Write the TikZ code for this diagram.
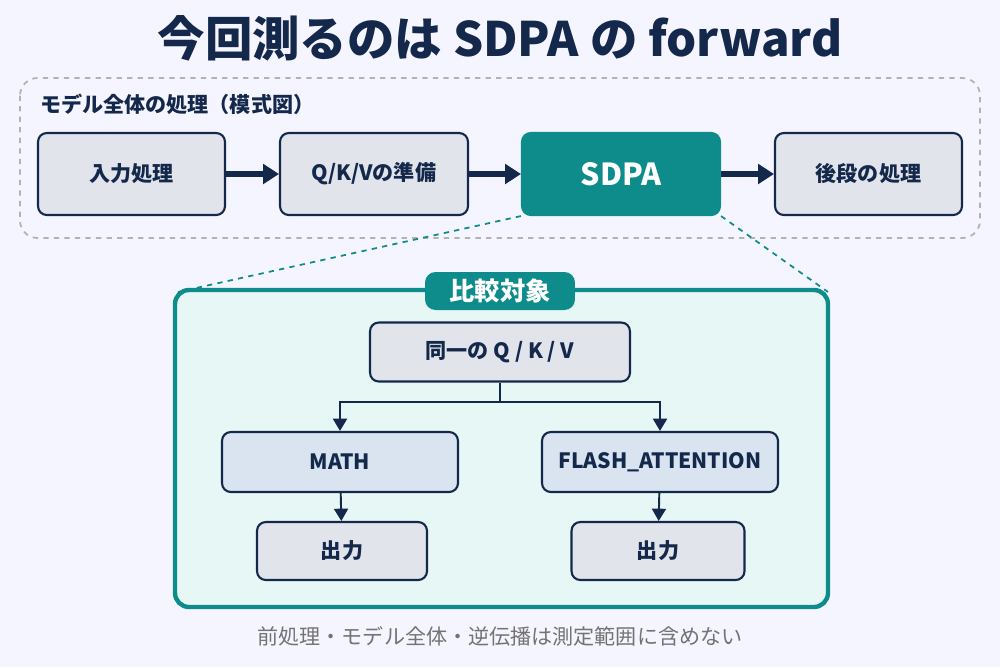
\documentclass[tikz,border=0pt]{standalone}
\usepackage{fontspec}
\setmainfont{Noto Sans CJK JP}
\usetikzlibrary{arrows.meta,positioning}
\definecolor{navy}{HTML}{14284B}
\definecolor{teal1}{HTML}{0E8C8C}
\definecolor{boxgray}{HTML}{E1E4EA}
\definecolor{boxblue}{HTML}{D9E4F0}
\definecolor{paleteal}{HTML}{E6F7F6}
\tikzset{
  stage/.style={draw=navy, line width=1.2pt, rounded corners=5pt, fill=boxgray, font=\bfseries\large, text=navy},
  mode/.style={stage, fill=boxblue},
  flow/.style={-{Triangle[length=9pt,width=11pt]}, draw=navy, line width=3pt},
  branch/.style={-{Triangle[length=7pt,width=8pt]}, draw=navy, line width=1.1pt},
}
\begin{document}
\begin{tikzpicture}[x=0.02cm, y=-0.02cm]
\fill[white!96!blue] (0,0) rectangle (1000,667);
\node[font=\bfseries\fontsize{27}{30}\selectfont, text=navy] (title) at (500,38) {今回測るのは SDPA の forward};
\draw[gray!60, dashed, line width=1pt, rounded corners=10pt] (20,78) rectangle (980,238);
\node[anchor=west, font=\bfseries\large, text=navy] (modellbl) at (34,104) {モデル全体の処理（模式図）};

% pipeline
\node[stage, minimum width=3.74cm, minimum height=1.64cm] (inp) at (131.5,174) {入力処理};
\node[stage, minimum width=3.76cm, minimum height=1.64cm] (qkv) at (374,174) {Q/K/Vの準備};
\node[stage, fill=teal1, draw=teal1, text=white, font=\bfseries\LARGE, minimum width=3.96cm, minimum height=1.64cm] (sdpa) at (621,174) {SDPA};
\node[stage, minimum width=3.74cm, minimum height=1.64cm] (post) at (868.5,174) {後段の処理};
\draw[flow] (inp) -- (qkv);
\draw[flow] (qkv) -- (sdpa);
\draw[flow] (sdpa) -- (post);

% zoom-in panel
\coordinate (zl) at (178,292);
\coordinate (zr) at (828,292);
\draw[teal1, dashed, line width=1pt] (sdpa.south west) -- (zl);
\draw[teal1, dashed, line width=1pt] (sdpa.south east) -- (zr);
\draw[teal1, fill=paleteal, line width=2.5pt, rounded corners=8pt] (175,290) rectangle (828,607);
\node[fill=teal1, text=white, rounded corners=6pt, font=\bfseries\Large, minimum width=3cm, minimum height=0.76cm] (tag) at (500,291) {比較対象};

\node[stage, minimum width=5.2cm, minimum height=1.18cm] (same) at (500,352) {同一の Q / K / V};
\node[mode, minimum width=4.72cm, minimum height=1.2cm] (math) at (340,462) {MATH};
\node[mode, minimum width=4.72cm, minimum height=1.2cm] (flash) at (660,462) {FLASH\_ATTENTION};
\node[stage, minimum width=3.4cm, minimum height=1.16cm] (outa) at (342,551) {出力};
\node[stage, minimum width=3.46cm, minimum height=1.16cm] (outb) at (658,551) {出力};
\coordinate (fork) at (500,402);
\draw[navy, line width=1.1pt] (same) -- (fork);
\draw[branch] (fork) -| (math);
\draw[branch] (fork) -| (flash);
\draw[branch] (math) -- (outa);
\draw[branch] (flash) -- (outb);

\node[text=gray!90!black, font=\large] (note) at (500,636) {前処理・モデル全体・逆伝播は測定範囲に含めない};
\end{tikzpicture}
\end{document}
